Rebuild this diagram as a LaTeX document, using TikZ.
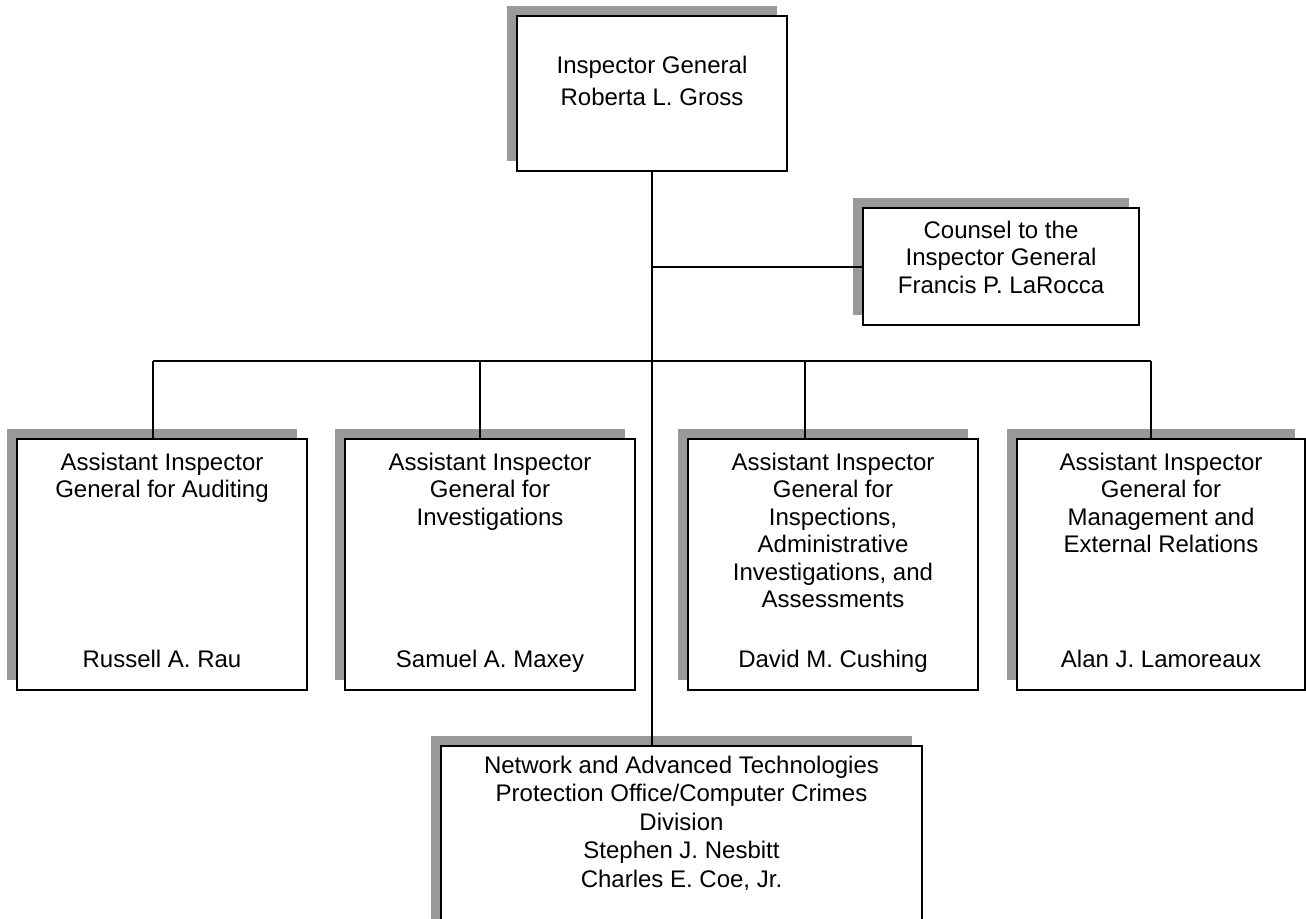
\documentclass[tikz,border=0pt]{standalone}
\usepackage{fontspec}
\setmainfont{Liberation Sans}
\usetikzlibrary{shadows}
\definecolor{shadowgray}{RGB}{153,153,153}
\begin{document}
\begin{tikzpicture}[x=1pt,y=-1pt,
  box/.style={draw=black, line width=2pt, fill=white, rectangle, inner sep=0pt,
    general shadow={fill=shadowgray, shadow xshift=-10pt, shadow yshift=10pt}},
  conn/.style={draw=black, line width=2pt},
  txt/.style={anchor=base, align=center, inner sep=0pt, font=\fontsize{24}{27.5}\selectfont}]
\useasboundingbox (0,0) rectangle (1306,918);
\clip (0,0) rectangle (1306,918);
% boxes
\node[box, minimum width=270pt, minimum height=155pt] (top) at (652,93.5) {};
\node[box, minimum width=276pt, minimum height=117pt] (counsel) at (1001,266.5) {};
\node[box, minimum width=290pt, minimum height=251pt] (b1) at (162,564.5) {};
\node[box, minimum width=290pt, minimum height=251pt] (b2) at (490,564.5) {};
\node[box, minimum width=290pt, minimum height=251pt] (b3) at (833,564.5) {};
\node[box, minimum width=288pt, minimum height=251pt] (b4) at (1161,564.5) {};
\node[box, minimum width=481pt, minimum height=200pt] (bottom) at (681.5,846) {};
% texts (anchor base = baseline of the last line)
\node[txt, font=\fontsize{24}{32}\selectfont] (ttop) at (652,105) {Inspector General\\Roberta L. Gross};
\node[txt] (tcounsel) at (1001,293) {Counsel to the\\Inspector General\\Francis P. LaRocca};
\node[txt] (t1) at (162,497.5) {Assistant Inspector\\General for Auditing};
\node[txt] (t2) at (490,525) {Assistant Inspector\\General for\\Investigations};
\node[txt] (t3) at (833,607.5) {Assistant Inspector\\General for\\Inspections,\\Administrative\\Investigations, and\\Assessments};
\node[txt] (t4) at (1161,552.5) {Assistant Inspector\\General for\\Management and\\External Relations};
\node[txt] (n1) at (162,667) {Russell A. Rau};
\node[txt] (n2) at (490,667) {Samuel A. Maxey};
\node[txt] (n3) at (833,667) {David M. Cushing};
\node[txt] (n4) at (1161,667) {Alan J. Lamoreaux};
\node[txt, font=\fontsize{24}{28.5}\selectfont] (tbottom) at (681.5,887) {Network and Advanced Technologies\\Protection Office/Computer Crimes\\Division\\Stephen J. Nesbitt\\Charles E. Coe, Jr.};
% connectors
\coordinate (d1) at (153,361);
\coordinate (d2) at (480,361);
\coordinate (d3) at (805,361);
\coordinate (d4) at (1151,361);
\draw[conn] (top.south) -- (top.south |- bottom.north);
\draw[conn] (top.south |- counsel.west) -- (counsel.west);
\draw[conn] (d1) -- (d4);
\draw[conn] (d1) -- (d1 |- b1.north);
\draw[conn] (d2) -- (d2 |- b2.north);
\draw[conn] (d3) -- (d3 |- b3.north);
\draw[conn] (d4) -- (d4 |- b4.north);
\end{tikzpicture}
\end{document}
